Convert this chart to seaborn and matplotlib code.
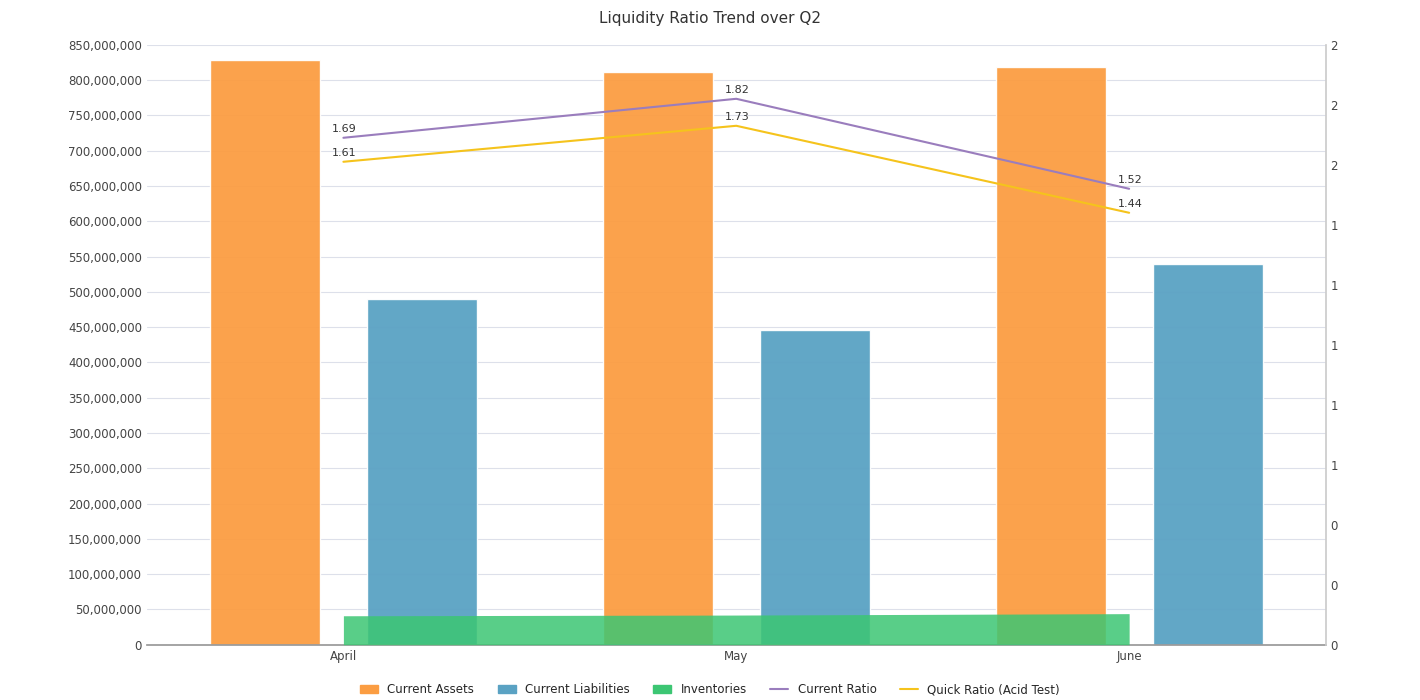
import numpy as np
import pandas as pd
import seaborn as sns
import matplotlib.pyplot as plt
from matplotlib.patches import Patch
from matplotlib.lines import Line2D
from matplotlib.ticker import FuncFormatter, MultipleLocator

months = ["April", "May", "June"]
current_assets = [829e6, 812e6, 819e6]
current_liabilities = [490e6, 446e6, 540e6]
inventories = [41e6, 42e6, 44e6]
current_ratio = [1.69, 1.82, 1.52]
quick_ratio = [1.61, 1.73, 1.44]

c_assets = "#fb9d42"
c_liab = "#5aa2c3"
c_inv = "#3cc673"
c_cr = "#9a7dbd"
c_qr = "#f5c31c"

sns.set_theme(style="white")
fig = plt.figure(figsize=(14.2, 7), dpi=100)
ax = fig.add_axes([0.1035, 0.079, 0.83, 0.857])

x = np.arange(len(months))
df = pd.DataFrame({"month": months, "assets": current_assets, "liab": current_liabilities})
w = 0.28
ax.bar(x - 0.2, df["assets"], width=w, color=c_assets, alpha=0.95, zorder=2)
ax.bar(x + 0.2, df["liab"], width=w, color=c_liab, alpha=0.95, zorder=2)
ax.fill_between(x, 0, inventories, color=c_inv, alpha=0.85, zorder=3, linewidth=0)

ax.set_xlim(-0.5, 2.5)
ax.set_ylim(0, 850e6)
ax.yaxis.set_major_locator(MultipleLocator(50e6))
ax.yaxis.set_major_formatter(FuncFormatter(lambda v, p: f"{v:,.0f}"))
ax.set_xticks(x)
ax.set_xticklabels(months)
ax.grid(axis="y", color="#dde0ea", linewidth=0.8, zorder=0)
ax.tick_params(labelsize=8.5, colors="#444444", length=0)
for s in ["top", "right", "left"]:
    ax.spines[s].set_visible(False)
ax.spines["bottom"].set_color("#999999")

ax2 = ax.twinx()
ax2.set_ylim(0, 2)
ax2.yaxis.set_major_locator(MultipleLocator(0.2))
ax2.yaxis.set_major_formatter(FuncFormatter(lambda v, p: f"{v:.0f}"))
ax2.tick_params(labelsize=8.5, colors="#444444", length=0)
for s in ["top", "left", "bottom"]:
    ax2.spines[s].set_visible(False)
ax2.spines["right"].set_color("#cccccc")
sns.lineplot(x=x, y=current_ratio, ax=ax2, color=c_cr, linewidth=1.5)
sns.lineplot(x=x, y=quick_ratio, ax=ax2, color=c_qr, linewidth=1.5)
for xi, v in zip(x, current_ratio):
    ax2.text(xi - 0.03, v + 0.02, f"{v:.2f}", fontsize=8, color="#333333")
for xi, v in zip(x, quick_ratio):
    ax2.text(xi - 0.03, v + 0.02, f"{v:.2f}", fontsize=8, color="#333333")

fig.suptitle("Liquidity Ratio Trend over Q2", y=0.985, fontsize=11, color="#333333")
handles = [Patch(color=c_assets), Patch(color=c_liab), Patch(color=c_inv),
           Line2D([], [], color=c_cr), Line2D([], [], color=c_qr)]
labels = ["Current Assets", "Current Liabilities", "Inventories", "Current Ratio", "Quick Ratio (Acid Test)"]
fig.legend(handles, labels, loc="lower center", ncol=5, frameon=False, fontsize=8.5,
           bbox_to_anchor=(0.5, -0.01), handlelength=1.5, columnspacing=2)
fig.savefig("out.png")
